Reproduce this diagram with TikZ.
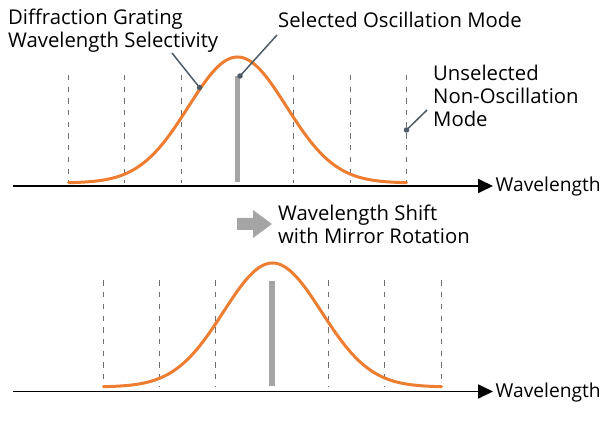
\documentclass[tikz,border=0pt]{standalone}
\usepackage{fontspec}
\setmainfont{Open Sans}
\usetikzlibrary{arrows.meta}
\definecolor{curveor}{HTML}{ED7D31}
\definecolor{bargray}{HTML}{A5A5A5}
\definecolor{dashgray}{HTML}{6E6E6E}
\definecolor{leadc}{HTML}{4F5B66}
\begin{document}
\begin{tikzpicture}[x=1pt,y=-1pt,
  lbl/.style={inner sep=0pt, anchor=base west, align=left, font=\fontsize{20.3}{23.4}\selectfont},
  axlbl/.style={inner sep=0pt, anchor=base west, font=\fontsize{19.2}{23}\selectfont},
  axisline/.style={line width=1.8pt, black, -{Triangle[length=15pt,width=14pt]}},
  modeline/.style={dashgray, line width=1.4pt, dash pattern=on 5.2pt off 6.5pt},
  selbar/.style={bargray, line width=5.5pt},
  gauss/.style={curveor, line width=3pt, line cap=round},
  leader/.style={leadc, line width=1.5pt},
  leaddot/.style={circle, fill=leadc, inner sep=0pt, minimum size=5.5pt}]
\useasboundingbox (0,0) rectangle (600,422);

% ---------- top panel ----------
\coordinate (a1s) at (13,186);
\coordinate (a1e) at (493,186);
\draw[axisline] (a1s) -- (a1e);
\node[axlbl] (wl1) at (495.5,192) {Wavelength};

\foreach \i/\xx in {1/68.5,2/124.5,3/181.5,5/293.5,6/350.5,7/406.5}{
  \coordinate (t\i) at (\xx,75);
  \coordinate (b\i) at (\xx,183);
  \draw[modeline] (t\i) -- (b\i);
}
\coordinate (sbt) at (237.3,76);
\coordinate (sbb) at (237.3,182);
\draw[selbar] (sbt) -- (sbb);
\draw[gauss] plot[domain=-169:169, samples=121, smooth] ({237.5+\x},{183-126*exp(-0.5*(\x/49)*(\x/49))});

% ---------- bottom panel ----------
\coordinate (a2s) at (13,391.5);
\coordinate (a2e) at (493,391.5);
\draw[axisline] (a2s) -- (a2e);
\node[axlbl] (wl2) at (495.5,397.5) {Wavelength};

\foreach \i/\xx in {1/103.5,2/159.5,3/215.5,5/328.5,6/384.5,7/441.5}{
  \coordinate (u\i) at (\xx,280.5);
  \coordinate (v\i) at (\xx,387);
  \draw[modeline] (u\i) -- (v\i);
}
\coordinate (s2t) at (272,281.5);
\coordinate (s2b) at (272,386);
\draw[selbar] (s2t) -- (s2b);
\draw[gauss] plot[domain=-169:169, samples=121, smooth] ({272.5+\x},{387-124*exp(-0.5*(\x/49)*(\x/49))});

% ---------- shift arrow ----------
\fill[bargray] (237,218) -- (253,218) -- (253,210) -- (272,224) -- (253,238) -- (253,230) -- (237,230) -- cycle;
\node[lbl] (shift) at (278,243.5) {Wavelength Shift\\with Mirror Rotation};

% ---------- labels and leaders ----------
\node[lbl] (dgws) at (8,48) {Diffraction Grating\\Wavelength Selectivity};
\node[lbl] (som) at (278,28) {Selected Oscillation Mode};
\node[lbl] (unm) at (433,127) {Unselected\\Non-Oscillation\\Mode};

\coordinate (l1s) at (172,53);
\node[leaddot] (d1) at (199.5,87.5) {};
\draw[leader] (l1s) -- (d1.center);

\coordinate (l2s) at (277,35);
\node[leaddot] (d2) at (240,76) {};
\draw[leader] (l2s) -- (d2.center);

\coordinate (l3s) at (427,110);
\node[leaddot] (d3) at (406.5,130) {};
\draw[leader] (l3s) -- (d3.center);
\end{tikzpicture}
\end{document}
